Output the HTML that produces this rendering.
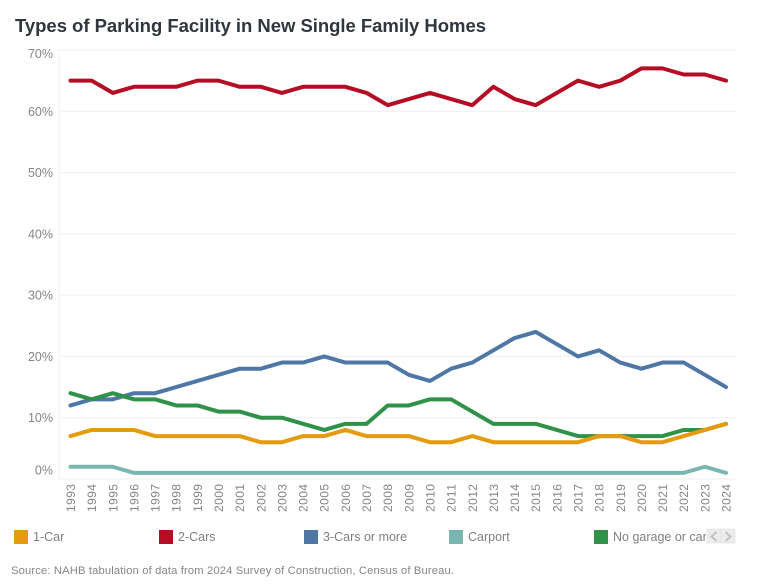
<!DOCTYPE html>
<html lang="en">
<head>
<meta charset="utf-8">
<title>Types of Parking Facility in New Single Family Homes</title>
<style>
html,body{margin:0;padding:0;background:#fff;}
body{width:762px;height:586px;overflow:hidden;font-family:"Liberation Sans","DejaVu Sans",sans-serif;}
svg{display:block;}
text{font-family:"Liberation Sans","DejaVu Sans",sans-serif;}
</style>
</head>
<body>
<svg id="chart" width="762" height="586" viewBox="0 0 762 586" xmlns="http://www.w3.org/2000/svg">
  <text x="15" y="32" font-size="18.5" font-weight="700" fill="#2f363d" textLength="471" lengthAdjust="spacing">Types of Parking Facility in New Single Family Homes</text>
  <g id="grid"></g>
  <g id="ylabels"></g>
  <g id="xlabels"></g>
  <g id="series"></g>
  <g id="legend"></g>
  <g>
    <rect x="707" y="529" width="14" height="14" fill="#ececec" stroke="#e0e0e0" stroke-width="0.6"/>
    <path d="M716.5 532 L711.5 536.5 L716.5 541" fill="none" stroke="#c2c2c2" stroke-width="2"/>
    <rect x="721" y="529" width="14" height="14" fill="#ececec" stroke="#e0e0e0" stroke-width="0.6"/>
    <path d="M725.5 532 L730.5 536.5 L725.5 541" fill="none" stroke="#c2c2c2" stroke-width="2"/>
  </g>
  <text x="11" y="574" font-size="11.2" fill="#858585" textLength="443" lengthAdjust="spacing">Source: NAHB tabulation of data from 2024 Survey of Construction, Census of Bureau.</text>
</svg>
<script>
const years = [1993,1994,1995,1996,1997,1998,1999,2000,2001,2002,2003,2004,2005,2006,2007,2008,2009,2010,2011,2012,2013,2014,2015,2016,2017,2018,2019,2020,2021,2022,2023,2024];
const yTicks = [0,10,20,30,40,50,60,70];
const oneCar = [7,8,8,8,7,7,7,7,7,6,6,7,7,8,7,7,7,6,6,7,6,6,6,6,6,7,7,6,6,7,8,9];
const twoCars = [65,65,63,64,64,64,65,65,64,64,63,64,64,64,63,61,62,63,62,61,64,62,61,63,65,64,65,67,67,66,66,65];
const threeCars = [12,13,13,14,14,15,16,17,18,18,19,19,20,19,19,19,17,16,18,19,21,23,24,22,20,21,19,18,19,19,17,15];
const carport = [2,2,2,1,1,1,1,1,1,1,1,1,1,1,1,1,1,1,1,1,1,1,1,1,1,1,1,1,1,1,2,1];
const noGarage = [14,13,14,13,13,12,12,11,11,10,10,9,8,9,9,12,12,13,13,11,9,9,9,8,7,7,7,7,7,8,8,9];
const seriesNames = ['1-Car','2-Cars','3-Cars or more','Carport','No garage or carport'];

const NS = 'http://www.w3.org/2000/svg';
const plotLeft = 59, plotRight = 736, plotTop = 50, plotBottom = 479;
const seriesValues = [oneCar, twoCars, threeCars, carport, noGarage];
const seriesColors = ['#e49b0f','#b50d24','#4e77a5','#79b6b0','#2f9248'];
const drawOrder = [3,1,2,4,0];
const legendX = [14,159,304,449,594];

function xScale(i){ return 70.5 + i * (726 - 70.5) / (years.length - 1); }
function yScale(v){ return plotBottom - v * (plotBottom - plotTop) / 70; }
function svgEl(tag, attrs){
  const el = document.createElementNS(NS, tag);
  Object.keys(attrs).forEach(function(k){ el.setAttribute(k, attrs[k]); });
  return el;
}

const grid = document.getElementById('grid');
const ylabels = document.getElementById('ylabels');
const xlabels = document.getElementById('xlabels');
const seriesGroup = document.getElementById('series');
const legend = document.getElementById('legend');

const yAxisLine = svgEl('line', {x1:plotLeft, x2:plotLeft, y1:plotTop, y2:plotBottom, stroke:'#f0f0f0', 'stroke-width':1});


grid.appendChild(yAxisLine);

yTicks.forEach(function(t){
  const line = svgEl('line', {x1:plotLeft, x2:plotRight, y1:yScale(t), y2:yScale(t), stroke:'#efefef', 'stroke-width':1});
  
  
  grid.appendChild(line);
  let labelY = yScale(t) + 4.5;
  if (t === 70) labelY = yScale(t) + 8;
  if (t === 0) labelY = yScale(t) - 4.5;
  const label = svgEl('text', {x:53, y:labelY, 'font-size':12.5, fill:'#858585', 'text-anchor':'end'});
  
  
  label.textContent = t + '%';
  ylabels.appendChild(label);
});

years.forEach(function(y, i){
  const px = xScale(i) + 4.5;
  const label = svgEl('text', {x:0, y:0, 'font-size':12, fill:'#858585', 'text-anchor':'end', transform:'translate(' + px + ',484) rotate(-90)', textLength:28, lengthAdjust:'spacing'});
  
  
  label.textContent = y;
  xlabels.appendChild(label);
});

drawOrder.forEach(function(s){
  const pts = seriesValues[s].map(function(v, i){ return xScale(i).toFixed(2) + ',' + yScale(v).toFixed(2); }).join(' ');
  const line = svgEl('polyline', {points:pts, fill:'none', stroke:seriesColors[s], 'stroke-width':4, 'stroke-linejoin':'round', 'stroke-linecap':'round'});
  
  
  seriesGroup.appendChild(line);
});

const legendClip = svgEl('clipPath', {id:'legend-clip'});
legendClip.appendChild(svgEl('rect', {x:0, y:520, width:706, height:30}));
legend.appendChild(legendClip);

seriesNames.forEach(function(name, s){
  const swatch = svgEl('rect', {x:legendX[s], y:530, width:14, height:14, fill:seriesColors[s]});
  
  
  legend.appendChild(swatch);
  const label = svgEl('text', {x:legendX[s] + 19, y:541, 'font-size':12.5, fill:'#7f7f7f', 'clip-path':'url(#legend-clip)'});
  
  
  label.textContent = name;
  legend.appendChild(label);
});
</script>
</body>
</html>
